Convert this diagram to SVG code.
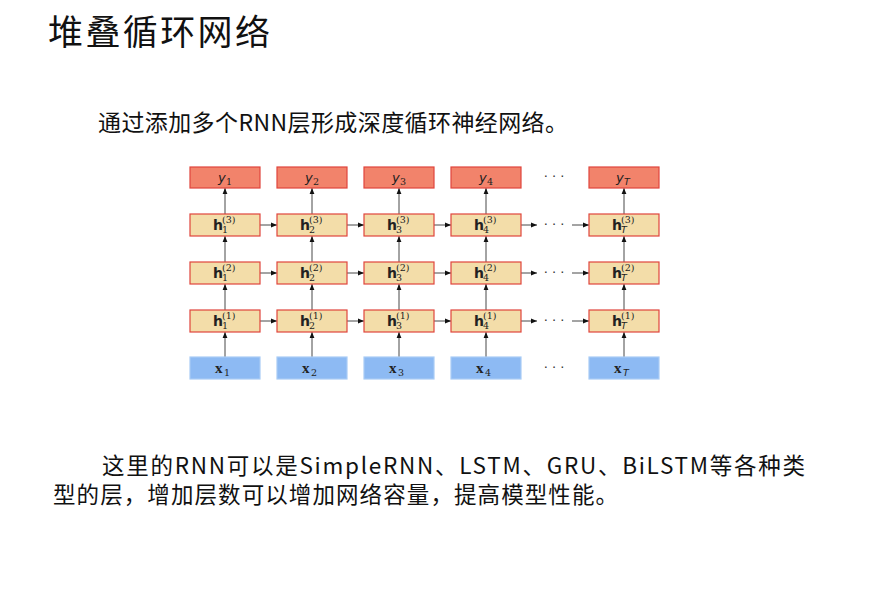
<svg xmlns="http://www.w3.org/2000/svg" width="883" height="592" viewBox="0 0 883 592">
<style>
.cjk{font-family:"Noto Sans CJK SC","Noto Sans",sans-serif;fill:#111}
.yb{fill:#F2836B;stroke:#E0453C;stroke-width:1.2}
.hb{fill:#F3DDA9;stroke:#E0453C;stroke-width:1.2}
.xb{fill:#8DBAF3;stroke:#A9CCF6;stroke-width:1.2}
.ln{stroke:#333;stroke-width:0.9;fill:none}
.yl{font-family:"DejaVu Sans",sans-serif;font-style:italic;font-size:13px;fill:#222}
.hl{font-family:"DejaVu Sans",sans-serif;font-weight:bold;font-size:14px;fill:#222}
.xl{font-family:"Liberation Serif",serif;font-weight:bold;font-size:15px;fill:#222}
.sm{font-family:"DejaVu Serif",serif;font-size:9.5px;fill:#222}
.si{font-family:"DejaVu Sans",sans-serif;font-style:italic;font-size:9.5px;fill:#222}
.dt{font-family:"DejaVu Sans",sans-serif;font-size:13px;fill:#333;text-anchor:middle}
</style>
<defs>
<marker id="ah" viewBox="0 0 10 10" refX="10" refY="5" markerWidth="6" markerHeight="6" markerUnits="userSpaceOnUse" orient="auto">
<path d="M0,1 L10,5 L0,9 Z" fill="#111"/>
</marker>
</defs>
<rect width="883" height="592" fill="#fff"/>
<g id="title"><text class="cjk" x="48" y="45" font-size="35" textLength="222" lengthAdjust="spacing">堆叠循环网络</text></g>
<g id="subtitle"><text class="cjk" x="98" y="131" font-size="23" textLength="470" lengthAdjust="spacing">通过添加多个RNN层形成深度循环神经网络。</text></g>
<g id="note">
<text class="cjk" x="102" y="474" font-size="22.5" textLength="703" lengthAdjust="spacing">这里的RNN可以是SimpleRNN、LSTM、GRU、BiLSTM等各种类</text>
<text class="cjk" x="53" y="503" font-size="22.5" textLength="565" lengthAdjust="spacing">型的层，增加层数可以增加网络容量，提高模型性能。</text>
</g>
<g id="connectors">
<g class="ln" marker-end="url(#ah)">
<line x1="225" y1="357" x2="225" y2="332"/><line x1="225" y1="310" x2="225" y2="284"/><line x1="225" y1="262" x2="225" y2="236"/><line x1="225" y1="214" x2="225" y2="188"/>
<line x1="312" y1="357" x2="312" y2="332"/><line x1="312" y1="310" x2="312" y2="284"/><line x1="312" y1="262" x2="312" y2="236"/><line x1="312" y1="214" x2="312" y2="188"/>
<line x1="399" y1="357" x2="399" y2="332"/><line x1="399" y1="310" x2="399" y2="284"/><line x1="399" y1="262" x2="399" y2="236"/><line x1="399" y1="214" x2="399" y2="188"/>
<line x1="486" y1="357" x2="486" y2="332"/><line x1="486" y1="310" x2="486" y2="284"/><line x1="486" y1="262" x2="486" y2="236"/><line x1="486" y1="214" x2="486" y2="188"/>
<line x1="624" y1="357" x2="624" y2="332"/><line x1="624" y1="310" x2="624" y2="284"/><line x1="624" y1="262" x2="624" y2="236"/><line x1="624" y1="214" x2="624" y2="188"/>
<line x1="260" y1="225" x2="277" y2="225"/><line x1="347" y1="225" x2="364" y2="225"/><line x1="434" y1="225" x2="451" y2="225"/><line x1="521" y1="225" x2="537" y2="225"/><line x1="572" y1="225" x2="589" y2="225"/>
<line x1="260" y1="273" x2="277" y2="273"/><line x1="347" y1="273" x2="364" y2="273"/><line x1="434" y1="273" x2="451" y2="273"/><line x1="521" y1="273" x2="537" y2="273"/><line x1="572" y1="273" x2="589" y2="273"/>
<line x1="260" y1="321" x2="277" y2="321"/><line x1="347" y1="321" x2="364" y2="321"/><line x1="434" y1="321" x2="451" y2="321"/><line x1="521" y1="321" x2="537" y2="321"/><line x1="572" y1="321" x2="589" y2="321"/>
</g>
</g>
<g id="dots">
<text class="dt" x="554" y="181">· · ·</text>
<text class="dt" x="554" y="229">· · ·</text>
<text class="dt" x="554" y="277">· · ·</text>
<text class="dt" x="554" y="325">· · ·</text>
<text class="dt" x="554" y="372">· · ·</text>
</g>
<g id="y1"><rect class="yb" x="190" y="167" width="70" height="21"/><text class="yl" x="218" y="182">y</text><text class="sm" x="226" y="185">1</text></g>
<g id="y2"><rect class="yb" x="277" y="167" width="70" height="21"/><text class="yl" x="305" y="182">y</text><text class="sm" x="313" y="185">2</text></g>
<g id="y3"><rect class="yb" x="364" y="167" width="70" height="21"/><text class="yl" x="392" y="182">y</text><text class="sm" x="400" y="185">3</text></g>
<g id="y4"><rect class="yb" x="451" y="167" width="70" height="21"/><text class="yl" x="479" y="182">y</text><text class="sm" x="487" y="185">4</text></g>
<g id="yT"><rect class="yb" x="589" y="167" width="70" height="21"/><text class="yl" x="616" y="182">y</text><text class="si" x="624" y="185">T</text></g>
<g id="h3_1"><rect class="hb" x="190" y="214" width="70" height="22"/><text class="hl" x="213" y="230">h</text><text class="sm" x="222" y="223">(3)</text><text class="sm" x="222" y="233">1</text></g>
<g id="h3_2"><rect class="hb" x="277" y="214" width="70" height="22"/><text class="hl" x="300" y="230">h</text><text class="sm" x="309" y="223">(3)</text><text class="sm" x="309" y="233">2</text></g>
<g id="h3_3"><rect class="hb" x="364" y="214" width="70" height="22"/><text class="hl" x="387" y="230">h</text><text class="sm" x="396" y="223">(3)</text><text class="sm" x="396" y="233">3</text></g>
<g id="h3_4"><rect class="hb" x="451" y="214" width="70" height="22"/><text class="hl" x="474" y="230">h</text><text class="sm" x="483" y="223">(3)</text><text class="sm" x="483" y="233">4</text></g>
<g id="h3_T"><rect class="hb" x="589" y="214" width="70" height="22"/><text class="hl" x="612" y="230">h</text><text class="sm" x="621" y="223">(3)</text><text class="si" x="621" y="233">T</text></g>
<g id="h2_1"><rect class="hb" x="190" y="262" width="70" height="22"/><text class="hl" x="213" y="278">h</text><text class="sm" x="222" y="271">(2)</text><text class="sm" x="222" y="281">1</text></g>
<g id="h2_2"><rect class="hb" x="277" y="262" width="70" height="22"/><text class="hl" x="300" y="278">h</text><text class="sm" x="309" y="271">(2)</text><text class="sm" x="309" y="281">2</text></g>
<g id="h2_3"><rect class="hb" x="364" y="262" width="70" height="22"/><text class="hl" x="387" y="278">h</text><text class="sm" x="396" y="271">(2)</text><text class="sm" x="396" y="281">3</text></g>
<g id="h2_4"><rect class="hb" x="451" y="262" width="70" height="22"/><text class="hl" x="474" y="278">h</text><text class="sm" x="483" y="271">(2)</text><text class="sm" x="483" y="281">4</text></g>
<g id="h2_T"><rect class="hb" x="589" y="262" width="70" height="22"/><text class="hl" x="612" y="278">h</text><text class="sm" x="621" y="271">(2)</text><text class="si" x="621" y="281">T</text></g>
<g id="h1_1"><rect class="hb" x="190" y="310" width="70" height="22"/><text class="hl" x="213" y="326">h</text><text class="sm" x="222" y="319">(1)</text><text class="sm" x="222" y="329">1</text></g>
<g id="h1_2"><rect class="hb" x="277" y="310" width="70" height="22"/><text class="hl" x="300" y="326">h</text><text class="sm" x="309" y="319">(1)</text><text class="sm" x="309" y="329">2</text></g>
<g id="h1_3"><rect class="hb" x="364" y="310" width="70" height="22"/><text class="hl" x="387" y="326">h</text><text class="sm" x="396" y="319">(1)</text><text class="sm" x="396" y="329">3</text></g>
<g id="h1_4"><rect class="hb" x="451" y="310" width="70" height="22"/><text class="hl" x="474" y="326">h</text><text class="sm" x="483" y="319">(1)</text><text class="sm" x="483" y="329">4</text></g>
<g id="h1_T"><rect class="hb" x="589" y="310" width="70" height="22"/><text class="hl" x="612" y="326">h</text><text class="sm" x="621" y="319">(1)</text><text class="si" x="621" y="329">T</text></g>
<g id="x1"><rect class="xb" x="190" y="357" width="70" height="22"/><text class="xl" x="215" y="373">x</text><text class="sm" x="224" y="376">1</text></g>
<g id="x2"><rect class="xb" x="277" y="357" width="70" height="22"/><text class="xl" x="302" y="373">x</text><text class="sm" x="311" y="376">2</text></g>
<g id="x3"><rect class="xb" x="364" y="357" width="70" height="22"/><text class="xl" x="389" y="373">x</text><text class="sm" x="398" y="376">3</text></g>
<g id="x4"><rect class="xb" x="451" y="357" width="70" height="22"/><text class="xl" x="476" y="373">x</text><text class="sm" x="485" y="376">4</text></g>
<g id="xT"><rect class="xb" x="589" y="357" width="70" height="22"/><text class="xl" x="614" y="373">x</text><text class="si" x="623" y="376">T</text></g>
</svg>
